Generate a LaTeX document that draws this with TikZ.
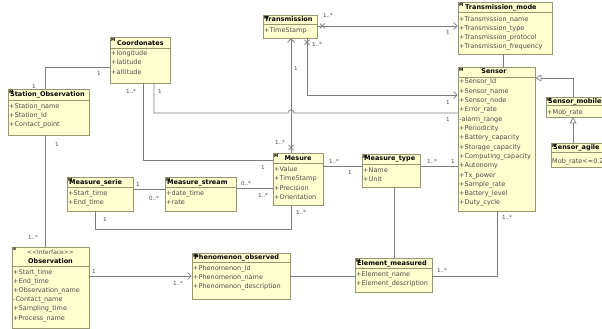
\documentclass[tikz,border=0pt]{standalone}
\usepackage{fontspec}
\newfontfamily\umlfont{DejaVu Sans}
\usetikzlibrary{arrows.meta,calc,fit}
\definecolor{clsfill}{RGB}{255,255,208}
\definecolor{clsdraw}{RGB}{150,150,112}
\definecolor{conn}{RGB}{125,125,125}
\definecolor{txt}{RGB}{75,75,75}
\tikzset{
  x=1pt, y=-1pt,
  cls/.style={draw=clsdraw, fill=clsfill, line width=0.8pt, rectangle, inner sep=0pt},
  sepline/.style={draw=clsdraw, line width=0.8pt},
  ttl/.style={font=\umlfont\fontsize{6.5}{7}\selectfont\bfseries, text=black, inner sep=0pt, anchor=base west},
  ttlc/.style={font=\umlfont\fontsize{6.5}{7}\selectfont\bfseries, text=black, inner sep=0pt, anchor=base},
  stereo/.style={font=\umlfont\fontsize{6}{7}\selectfont, text=txt, inner sep=0pt, anchor=base},
  att/.style={font=\umlfont\fontsize{6.5}{7}\selectfont, text=txt, inner sep=0pt, anchor=base west},
  ico/.style={font=\umlfont\fontsize{4.3}{5}\selectfont\bfseries, text=black, inner sep=0pt, anchor=north west},
  lbl/.style={font=\umlfont\fontsize{5.6}{6}\selectfont, text=txt, inner sep=0pt},
  con/.style={draw=conn, line width=0.7pt},
  nav/.style={-{Straight Barb[length=3.5pt,width=7pt]}},
  gen/.style={-{Triangle[open,length=6pt,width=7pt,fill=white]}},
}
\newcommand\umlbox[6]{%
  \coordinate (#1-nw) at (#2,#3);
  \coordinate (#1-se) at (#4,#5);
  \node[cls, fit=(#1-nw)(#1-se)] (#1) {};
  \draw[sepline] (#1.west |- 0,#6) -- (#1.east |- 0,#6);
  \node[ico] at ({#2+1},{#3+1}) {M};
}
\newcommand\attlist[4]{%
  \foreach \a [count=\i from 0] in {#4} {\node[att] at (#1,{#2+#3*\i}) {\a};}
}
\newcommand\xmark[1]{\draw[con] #1 ++(-2.5,-2.5) -- ++(5,5) ++(-5,0) -- ++(5,-5);}
\begin{document}
\catcode`\_=12
\begin{tikzpicture}
\useasboundingbox (0,0) rectangle (602,329);
\clip (0,0) rectangle (602,329);
\fill[white] (0,0) rectangle (602,329);

% ---- classes
\umlbox{coord}{110}{37}{170}{83}{48}
\node[ttl] at (117,45.5) {Coordonates};
\attlist{111}{55.5}{9.3}{+longitude,+latitude,+altitude}

\umlbox{sta}{8}{89}{89}{135}{100}
\node[ttl] at (10,96.5) {Station_Observation};
\attlist{9}{108.3}{9.1}{+Station_name,+Station_Id,+Contact_point}

\umlbox{trans}{263}{15}{317}{38}{24}
\node[ttl] at (264.5,21.5) {Transmission};
\attlist{264}{32.3}{9.3}{+TimeStamp}

\umlbox{tmode}{458}{2}{552}{54}{12}
\node[ttl] at (465,9.5) {Transmission_mode};
\attlist{459}{21.3}{9}{+Transmission_name,+Transmission_type,+Transmission_protocol,+Transmission_frequency}

\umlbox{sensor}{458}{67}{535}{211}{77}
\node[ttlc] at (494,73.5) {Sensor};
\attlist{459}{84}{9.3}{+Sensor_Id,+Sensor_name,+Sensor_node,+Error_rate,-alarm_range,+Periodicity,+Battery_capacity,+Storage_capacity,+Computing_capacity,+Autonomy,+Tx_power,+Sample_rate,+Battery_level,+Duty_cycle}

\umlbox{smob}{546}{97}{615}{117}{105}
\node[ttl] at (548,103) {Sensor_mobile};
\attlist{547}{114.3}{9.3}{+Mob_rate}

\umlbox{sagile}{551}{143}{615}{167}{152}
\node[ttl] at (553,149.8) {Sensor_agile};
\attlist{552}{163.3}{9.3}{Mob_rate<=0.2}

\umlbox{mesure}{273}{153}{323}{205}{163}
\node[ttlc] at (298,160.8) {Mesure};
\attlist{274}{171.6}{9.2}{+Value,+TimeStamp,+Precision,+Orientation}

\umlbox{mtype}{362}{154}{420}{187}{164}
\node[ttl] at (364,160.8) {Measure_type};
\attlist{363}{172.3}{9}{+Name,+Unit}

\umlbox{mserie}{67}{177}{133}{211}{187}
\node[ttl] at (69,184.5) {Measure_serie};
\attlist{68}{195}{9}{+Start_time,+End_time}

\umlbox{mstream}{165}{177}{236}{211}{187}
\node[ttl] at (167,184.5) {Measure_stream};
\attlist{166}{195}{9}{+date_time,+rate}

\coordinate (obs-nw) at (12,247);
\coordinate (obs-se) at (89,328);
\node[cls, fit=(obs-nw)(obs-se)] (obs) {};
\draw[sepline] (obs.west |- 0,266) -- (obs.east |- 0,266);
\node[ico] at (13,248) {a};
\node[stereo] at (50.5,254) {<<Interface>>};
\node[ttlc] at (50.5,263.2) {Observation};
\attlist{13}{274}{9.2}{+Start_time,+End_time,+Observation_name,-Contact_name,+Sampling_time,+Process_name}

\umlbox{phen}{192}{253}{290}{299}{262}
\node[ttl] at (194,259.5) {Phenomenon_observed};
\attlist{193}{270}{9.2}{+Phenomenon_Id,+Phenomenon_name,+Phenomenon_description}

\umlbox{elem}{355}{258}{432}{292}{268}
\node[ttl] at (357,265.2) {Element_measured};
\attlist{356}{276.6}{9}{+Element_name,+Element_description}

% ---- connectors
% Station -- Coordonates
\draw[con] (sta.north -| 45,0) |- (coord.west |- 0,67);
\node[lbl] at (34,86) {1};
\node[lbl] at (99,73) {1};
% Coordonates -- Sensor (with hop)
\draw[con] (coord.south -| 154,0) |- (288,113) .. controls (288,109) and (294,109) .. (294,113) -- (sensor.west |- 0,113);
\node[lbl] at (160,91) {1};
\node[lbl] at (448,119) {1};
% Coordonates -- Mesure
\draw[con] (coord.south -| 143,0) |- (mesure.west |- 0,160);
\node[lbl] at (131,91) {1..*};
\node[lbl] at (263,167) {1};
% Mesure -> Transmission
\draw[con,nav] (mesure.north -| 291,0) -- (trans.south -| 291,0);
\xmark{(mesure.north -| 291,0) ++(0,-5)}
\node[lbl] at (296,68) {1};
\node[lbl] at (280,142) {1..*};
% Transmission -> Transmission_mode
\draw[con,nav] (trans.east |- 0,26) -- (tmode.west |- 0,26);
\xmark{(trans.east |- 0,26) ++(5,0)}
\node[lbl] at (328,15) {1..*};
\node[lbl] at (448,32) {1};
% Transmission -> Sensor
\draw[con,nav] (trans.south -| 307,0) |- (sensor.west |- 0,95);
\xmark{(trans.south -| 307,0) ++(0,4)}
\node[lbl] at (317,44) {1..*};
\node[lbl] at (448,102) {1};
% Transmission_mode -- Sensor
\draw[con] (tmode.south -| 503,0) -- (sensor.north -| 503,0);
% generalizations
\draw[con,gen] (smob.north -| 573,0) |- (sensor.east |- 0,78);
\draw[con,gen] (sagile.north -| 573,0) -- (smob.south -| 573,0);
% Mesure -- Measure_type
\draw[con] (mesure.east |- 0,166) -- (mtype.west |- 0,166);
\node[lbl] at (334,161) {1..*};
\node[lbl] at (350,172) {1};
% Measure_type -- Sensor
\draw[con] (mtype.east |- 0,166) -- (sensor.west |- 0,166);
\node[lbl] at (432,161) {1..*};
\node[lbl] at (453,161) {1};
% Measure_serie -- Measure_stream
\draw[con] (mserie.east |- 0,189) -- (mstream.west |- 0,189);
\node[lbl] at (138,184) {1};
\node[lbl] at (154,198) {0..*};
% Measure_stream -- Mesure
\draw[con] (mstream.east |- 0,188) -- (mesure.west |- 0,188);
\node[lbl] at (246,183) {0..*};
\node[lbl] at (263,195) {1..*};
% Measure_serie -- Mesure
\draw[con] (mserie.south -| 95,0) -- (95,229) -| (mesure.south -| 291,0);
\node[lbl] at (105,219) {1};
\node[lbl] at (301,212) {1..*};
% Station -- Observation
\draw[con] (sta.south -| 45,0) -- (obs.north -| 45,0);
\node[lbl] at (57,144) {1};
\node[lbl] at (33,237) {1..*};
% Observation -> Phenomenon
\draw[con,nav] (obs.east |- 0,276) -- (phen.west |- 0,276);
\node[lbl] at (94,271) {1};
\node[lbl] at (178,283) {1..*};
% Phenomenon -- Element
\draw[con] (phen.east |- 0,276) -- (elem.west |- 0,276);
% Measure_type -- Element
\draw[con] (mtype.south -| 394,0) -- (elem.north -| 394,0);
% Element -- Sensor
\draw[con] (elem.east |- 0,276) -| (sensor.south -| 497,0);
\node[lbl] at (442,270) {1..*};
\node[lbl] at (507,217) {1..*};
\end{tikzpicture}
\end{document}
